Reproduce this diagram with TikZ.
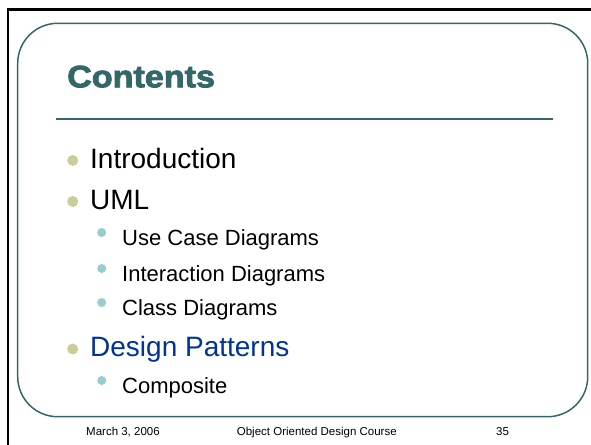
\documentclass[tikz,border=0pt]{standalone}
\usepackage{fontspec}
\setmainfont{Liberation Sans}
\newfontfamily\titlefont[FakeBold=2.6]{Liberation Sans Bold}
\definecolor{slateteal}{RGB}{52,104,104}
\definecolor{khaki}{RGB}{204,204,153}
\definecolor{paleteal}{RGB}{153,204,204}
\definecolor{linkblue}{RGB}{0,51,153}
\tikzset{
  txt/.style={inner sep=0pt, anchor=base west},
  levelone/.style={txt, font=\fontsize{28}{28}\selectfont},
  leveltwo/.style={txt, font=\fontsize{22}{22}\selectfont},
  footer/.style={txt, font=\fontsize{11.5}{11.5}\selectfont},
  dotone/.style={circle, fill=khaki, inner sep=0pt, minimum size=11pt, anchor=center},
  dottwo/.style={circle, fill=paleteal, inner sep=0pt, minimum size=9pt, anchor=center}
}
\begin{document}
\begin{tikzpicture}[x=1pt,y=-1pt]
\useasboundingbox (0,0) rectangle (591,444);
\fill[white] (0,0) rectangle (591,444);
% outer slide frame
\draw[line width=2.2pt] (8,446) -- (8,9.5) -- (593,9.5);
% rounded content panel and title rule
\draw[slateteal, line width=1.5pt, rounded corners=40pt] (17.7,23.3) rectangle (587.7,416.7);
\draw[slateteal, line width=2pt] (56,119) -- (553,119);
% title
\node[txt, font=\titlefont\fontsize{31}{31}\selectfont, text=slateteal, xscale=1.1] (title) at (67,87.3) {Contents};
% first-level entries
\node[dotone] (d1) at (72.7,160.5) {};
\node[levelone] (intro) at (90,168) {Introduction};
\node[dotone] (d2) at (72.7,201.5) {};
\node[levelone] (uml) at (90,209.5) {UML};
\node[dottwo] (d3) at (101.7,232.5) {};
\node[leveltwo] (usecase) at (122,245) {Use Case Diagrams};
\node[dottwo] (d4) at (101.7,268.5) {};
\node[leveltwo] (interaction) at (122,281) {Interaction Diagrams};
\node[dottwo] (d5) at (101.7,302.5) {};
\node[leveltwo] (classdiag) at (122,315) {Class Diagrams};
\node[dotone] (d6) at (72.7,349) {};
\node[levelone, text=linkblue] (patterns) at (90,356.5) {Design Patterns};
\node[dottwo] (d7) at (101.7,380.5) {};
\node[leveltwo] (composite) at (122,393) {Composite};
% footer
\node[footer] (date) at (86,435.5) {March 3, 2006};
\node[footer] (course) at (236.7,435.5) {Object Oriented Design Course};
\node[footer] (page) at (496,435.5) {35};
\end{tikzpicture}
\end{document}
